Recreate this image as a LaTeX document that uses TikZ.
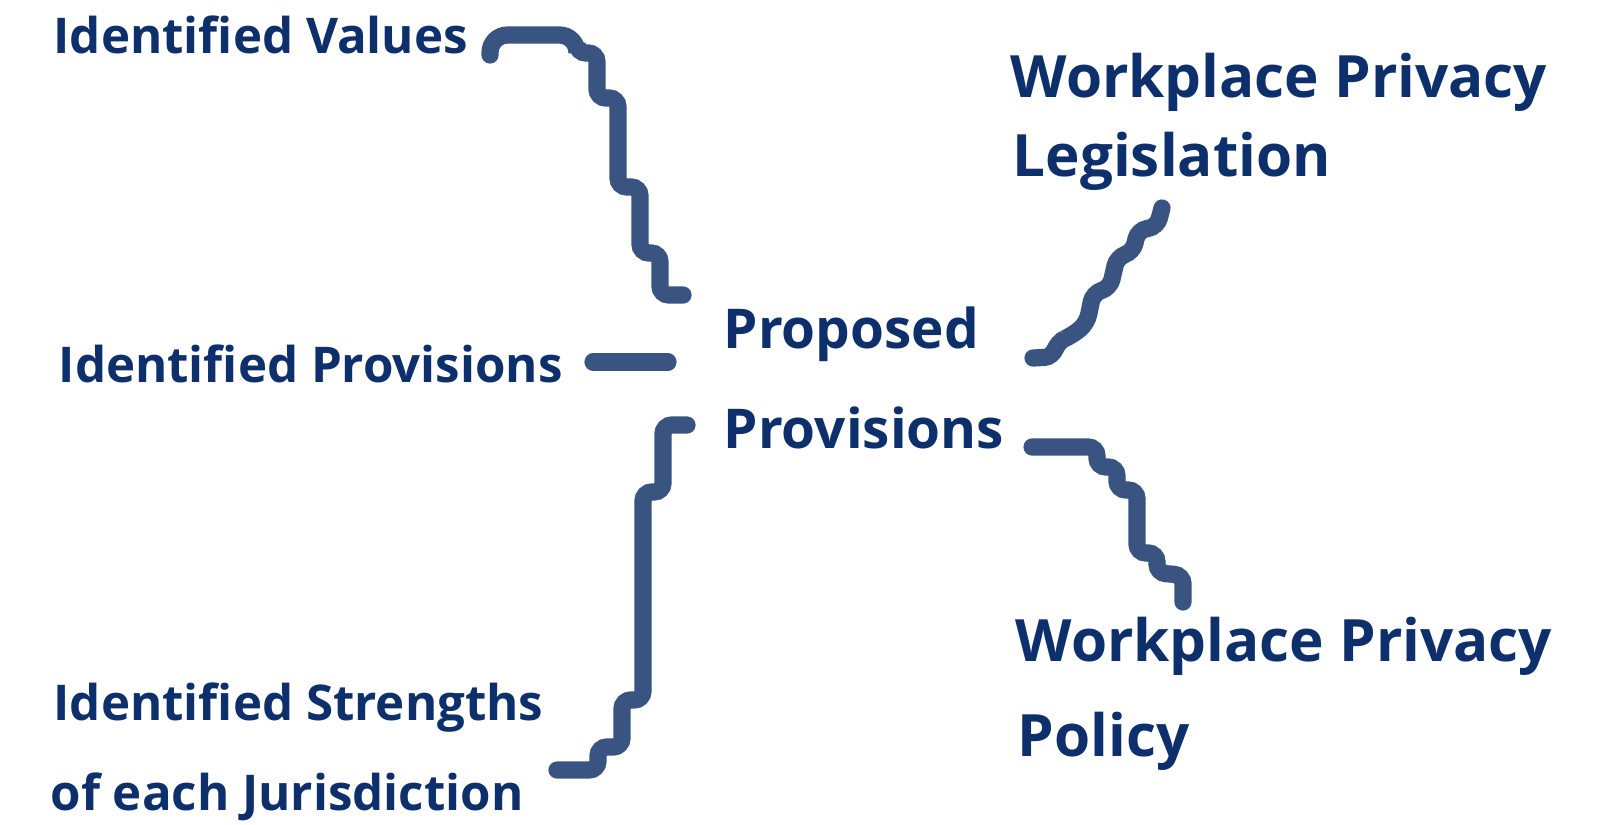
\documentclass[tikz,border=0pt]{standalone}
\usepackage{fontspec}
\setmainfont{Open Sans}
\usepackage{tikz}
\usetikzlibrary{positioning}
\usetikzlibrary{calc}
\definecolor{navy}{HTML}{0D2F6B}
\definecolor{wireblue}{HTML}{3A5482}
\tikzstyle{txt} = [anchor=base west, inner sep=0pt, text=navy, font=\fontsize{14}{16}\selectfont\bfseries]
\tikzstyle{midtxt} = [anchor=base west, inner sep=0pt, text=navy, font=\fontsize{15.6}{18}\selectfont\bfseries]
\tikzstyle{bigtxt} = [anchor=base west, inner sep=0pt, text=navy, font=\fontsize{16.6}{20}\selectfont\bfseries]
\tikzstyle{wire} = [draw=wireblue, line width=4.9pt, line cap=round, rounded corners=2.5pt]

\begin{document}
\begin{tikzpicture}[x=0.01cm, y=-0.01cm]
  \useasboundingbox (0,0) rectangle (1610,824);

  % left column
  \node[txt] (vals) at (53,53) {Identified Values};
  \node[txt] (prov) at (58,382) {Identified Provisions};
  \node[txt] (str1) at (53,720) {Identified Strengths};
  \node[txt] (str2) at (50,810) {of each Jurisdiction};

  % centre
  \node[midtxt] (prop1) at (723,348) {Proposed};
  \node[midtxt] (prop2) at (723,448) {Provisions};

  % right column
  \node[bigtxt] (leg1) at (1010,97) {Workplace Privacy};
  \node[bigtxt] (leg2) at (1012,176) {Legislation};
  \node[bigtxt] (pol1) at (1015,661) {Workplace Privacy};
  \node[bigtxt] (pol2) at (1017,756) {Policy};

  % free ends of the brackets
  \coordinate (v) at (490,55);
  \coordinate (p) at (593,362);
  \coordinate (s) at (557,770);
  \coordinate (l) at (1033,358);
  \coordinate (q) at (1032,447);

  \draw[wire] (v) [rounded corners=5pt] -- ++(0,-20) -- ++(87,0) [rounded corners=2.5pt] -- ++(0,18) -- ++(20,0) -- ++(0,45)
     -- ++(21,0) -- ++(0,89) -- ++(22,0) -- ++(0,66) -- ++(20,0) -- ++(0,42) -- ++(23,0);
  \draw[wire] (p) -- ++(75,0);
  \draw[wire] (s) -- ++(41,0) -- ++(0,-23) -- ++(24,0) -- ++(0,-47) -- ++(21,0)
     -- ++(0,-208) -- ++(20,0) -- ++(0,-67) -- ++(24,0);
  \draw[wire] (l) -- (1053,357) -- (1057,342) -- (1073,335) -- (1087,323) -- (1093,293)
     -- (1110,288) -- (1117,257) -- (1133,252) -- (1138,230) -- (1157,227) -- (1162,208);
  \draw[wire] (q) -- ++(65,0) -- ++(0,20) -- ++(20,0) -- ++(0,23) -- ++(20,0) -- ++(0,63)
     -- ++(20,0) -- ++(0,20) -- ++(26,2) -- ++(0,27);
\end{tikzpicture}
\end{document}
